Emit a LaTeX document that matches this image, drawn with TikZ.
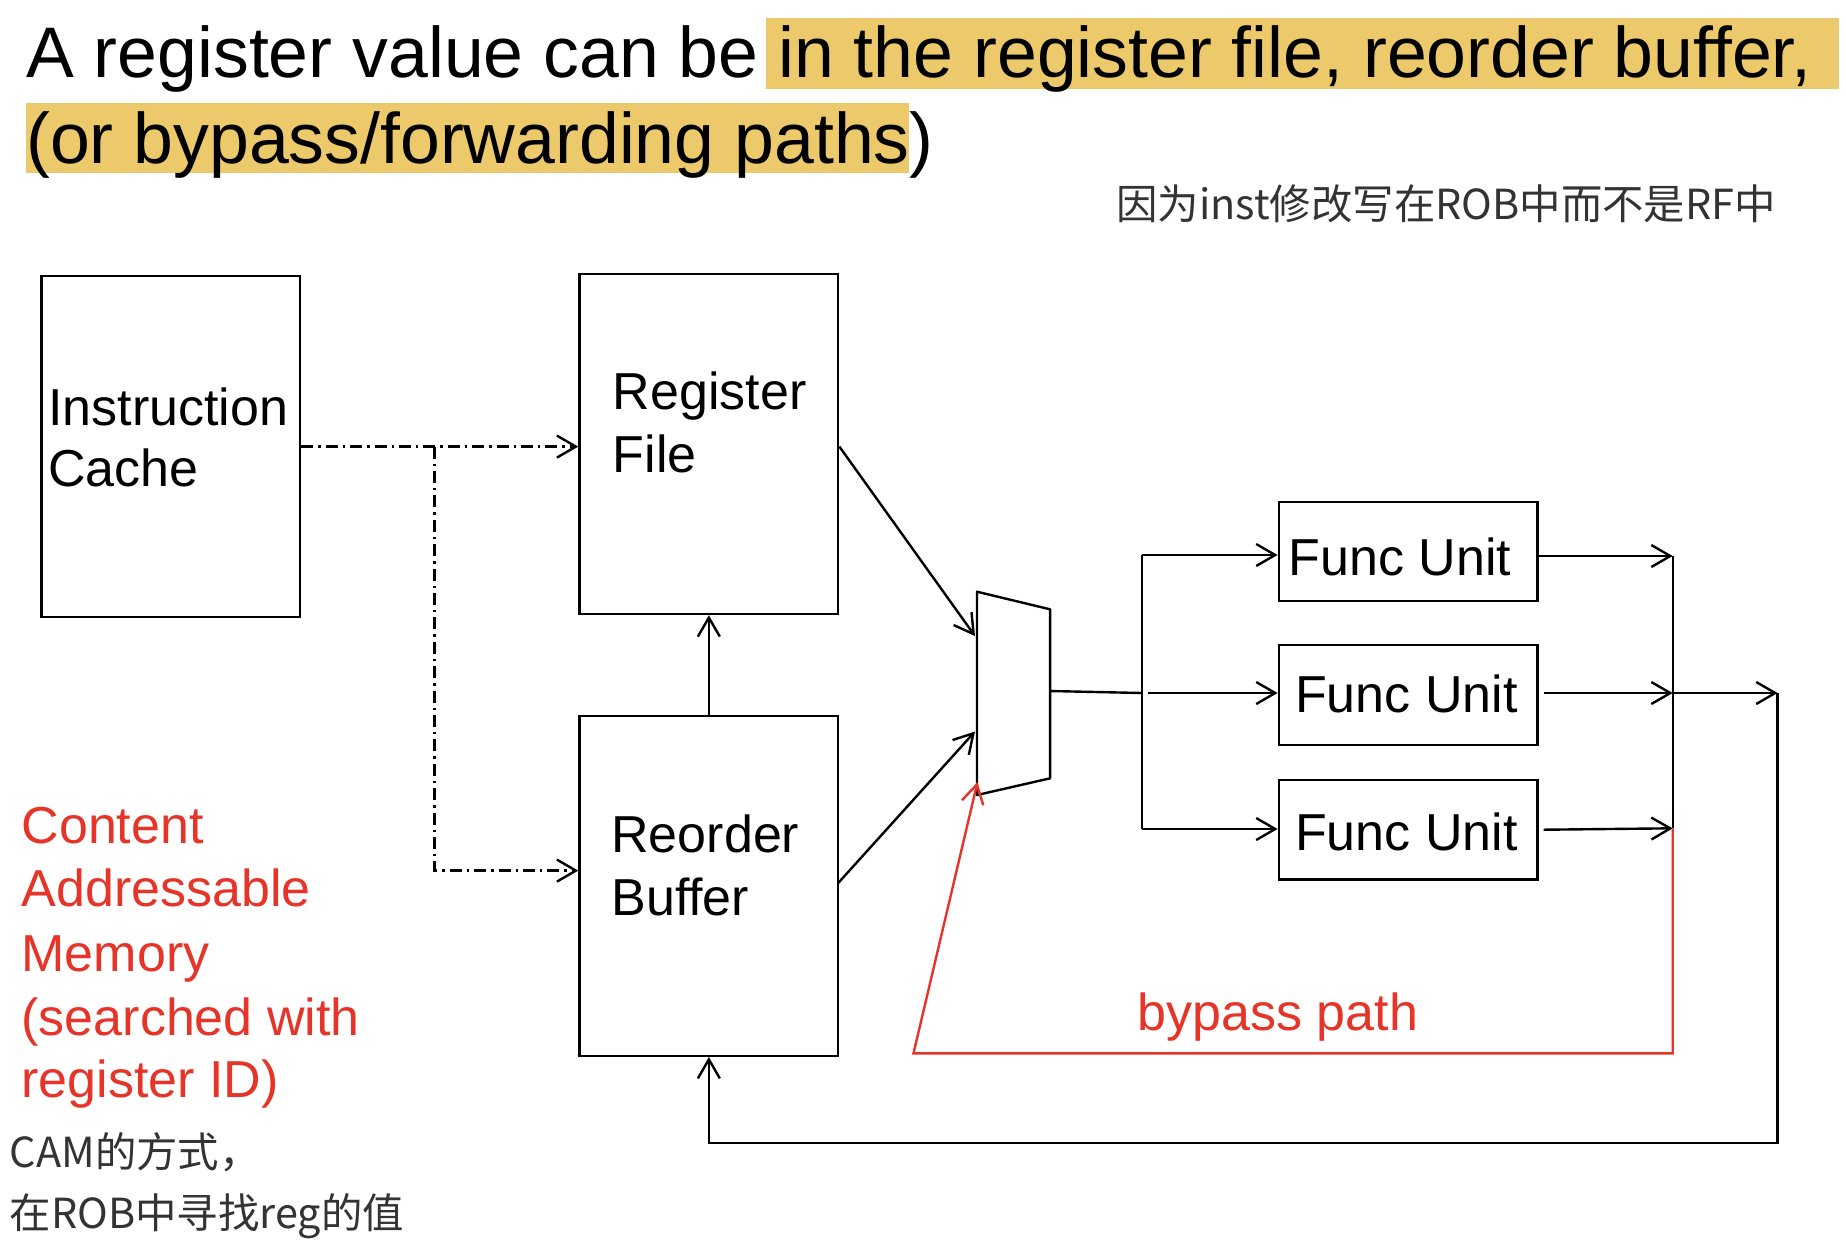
\documentclass[tikz,border=0pt]{standalone}
\usepackage{fontspec}
\setmainfont{Liberation Sans}
\newfontfamily\cjk{Noto Sans CJK SC}
\usetikzlibrary{arrows.meta,fit}
\definecolor{hl}{RGB}{236,201,107}
\definecolor{redtxt}{RGB}{230,52,40}
\definecolor{graytxt}{RGB}{51,51,51}
\begin{document}
\begin{tikzpicture}[x=0.5pt,y=-0.5pt,
  box/.style={draw, line width=1.2pt, inner sep=0pt},
  lbl/.style={anchor=base west, inner sep=0pt, font=\fontsize{26}{31}\selectfont},
  ttl/.style={anchor=base west, inner sep=0pt, font=\fontsize{35.8}{42}\selectfont},
  note/.style={anchor=base west, inner sep=0pt, text=graytxt, font=\cjk\fontsize{20.7}{25}\selectfont},
  ln/.style={line width=1.2pt},
  arr/.style={-{Straight Barb[length=9.5pt,width=11pt,line width=1.2pt]}},
  conn/.style={ln, arr},
  dd/.style={ln, dash pattern=on 6pt off 2.5pt on 1.2pt off 2.5pt},
  redl/.style={draw=redtxt, line width=1.2pt}]
\useasboundingbox (0,0) rectangle (1846,1250);
\fill[white] (0,0) rectangle (1846,1250);

% title highlights
\fill[hl] (766.4,18.3) rectangle (1839,88.7);
\fill[hl] (25.9,103.3) rectangle (908.9,173.3);
\node[ttl] (t1) at (25.9,77.3) {A register value can be in the register file, reorder buffer,};
\node[ttl] (t2) at (25.9,163.3) {(or bypass/forwarding paths)};
\node[note] (n1) at (1116,219) {因为inst修改写在ROB中而不是RF中};

% boxes
\node[box, fit={(41.3,276) (300.2,617)}] (ic) {};
\node[box, fit={(579.5,274) (838.2,614)}] (rf) {};
\node[box, fit={(579.5,716) (838.2,1055.8)}] (rob) {};
\node[box, fit={(1278.8,501.7) (1537.4,601)}] (fu1) {};
\node[box, fit={(1278.8,645) (1537.4,745)}] (fu2) {};
\node[box, fit={(1278.8,780) (1537.4,879.4)}] (fu3) {};

\node[lbl] (ic1) at (48,425) {Instruction};
\node[lbl] (ic2) at (48,486.7) {Cache};
\node[lbl] (rf1) at (612.5,409.3) {Register};
\node[lbl] (rf2) at (612.5,472.7) {File};
\node[lbl] (rob1) at (611,852.1) {Reorder};
\node[lbl] (rob2) at (611,915.9) {Buffer};
\node[lbl] (fut1) at (1288.4,575) {Func Unit};
\node[lbl] (fut2) at (1294.7,712.7) {Func Unit};
\node[lbl] (fut3) at (1294.7,850) {Func Unit};

% red text
\node[lbl, text=redtxt] (r1) at (21.2,843.1) {Content};
\node[lbl, text=redtxt] (r2) at (21.2,906.5) {Addressable};
\node[lbl, text=redtxt] (r3) at (21.2,971.3) {Memory};
\node[lbl, text=redtxt] (r4) at (21.2,1035.7) {(searched with};
\node[lbl, text=redtxt] (r5) at (21.2,1097.1) {register ID)};
\node[lbl, text=redtxt] (bp) at (1137.2,1030) {bypass path};
\node[note] (c1t) at (9.4,1167.6) {CAM的方式，};
\node[note] (c2t) at (9.4,1228) {在ROB中寻找reg的值};

% mux
\coordinate (mA) at (977,591.7);
\coordinate (mB) at (1050.1,609.3);
\coordinate (mC) at (1050.1,778.3);
\coordinate (mD) at (977,795);
\draw[ln, line join=round] (mA) -- (mB) -- (mC) -- (mD) -- cycle;

% dash-dot connectors
\coordinate (br) at (434.6,446.6);
\draw[dd, arr] (ic.east |- br) -- (rf.west |- br);
\draw[dd, arr] (br) |- (rob.west |- 0,870.6);

% ROB -> RF
\draw[conn] (rob.north) -- (rf.south);

% into mux
\coordinate (min1) at (975,636);
\coordinate (min2) at (975,731.5);
\coordinate (min3) at (977.5,782);
\draw[conn] (rf.east |- br) -- (min1);
\draw[conn] (838.2,883) -- (min2);

% mux out and bus
\coordinate (mout) at (1050.1,691);
\coordinate (busm) at (1142.2,693);
\coordinate (bust) at (1142.2,555);
\coordinate (busb) at (1142.2,829);
\coordinate (bus2) at (1148,693);
\draw[ln] (mout) -- (busm);
\draw[ln] (bust) -- (busb);
\draw[conn] (bust) -- (fu1.west |- bust);
\draw[conn] (bus2) -- (fu2.west |- bus2);
\draw[conn] (busb) -- (fu3.west |- busb);

% collector
\coordinate (k1) at (1672.7,556);
\coordinate (k2) at (1672.7,693);
\coordinate (k3) at (1672.7,828.3);
\coordinate (kb) at (1672.7,1053.3);
\coordinate (oa) at (1777.6,693);
\coordinate (ret) at (1777.6,1143);
\draw[conn] (fu1.east |- k1) -- (k1);
\draw[conn] ([xshift=2.5pt]fu2.east |- k2) -- (k2);
\draw[conn] ([xshift=2.5pt]fu3.east) -- (k3);
\draw[ln] (k1) -- (k3);
\draw[conn] (k2) -- (oa);
\draw[conn] (oa) -- (ret) -| (rob.south);

% bypass path
\coordinate (rl) at (913.5,1053.3);
\draw[redl, arr] (k3) -- (kb) -- (rl) -- (min3);
\end{tikzpicture}
\end{document}
